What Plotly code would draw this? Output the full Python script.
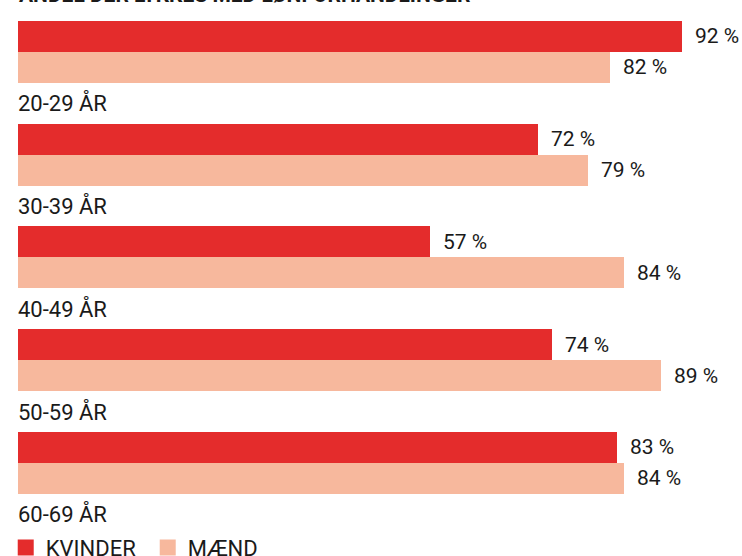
import plotly.graph_objects as go

groups = ["20-29 ÅR", "30-39 ÅR", "40-49 ÅR", "50-59 ÅR", "60-69 ÅR"]
kvinder = [92, 72, 57, 74, 83]
maend = [82, 79, 84, 89, 84]
series_names = ["KVINDER", "MÆND"]
title_text = "ANDEL DER LYKKES MED LØNFORHANDLINGER"

RED = "#E42C2C"
SALMON = "#F7B89D"
TXT = "#1a1a1a"
FONT = "Roboto"

bar_w = 0.3016
off_k = 0.0
off_m = bar_w
off_lab = 0.652

idx = list(range(len(groups)))
y_k = [i + off_k for i in idx]
y_m = [i + off_m for i in idx]

fig = go.Figure()
fig.add_trace(go.Bar(x=kvinder, y=y_k, orientation="h", width=bar_w,
                     marker=dict(color=RED, line=dict(width=0)), showlegend=False,
                     hoverinfo="skip"))
fig.add_trace(go.Bar(x=maend, y=y_m, orientation="h", width=bar_w,
                     marker=dict(color=SALMON, line=dict(width=0)), showlegend=False,
                     hoverinfo="skip"))
# legend entries
for name, col in zip(series_names, [RED, SALMON]):
    fig.add_trace(go.Scatter(x=[None], y=[None], mode="markers", name=name,
                             marker=dict(symbol="square", size=17, color=col)))

ann = []
for i in idx:
    ann.append(dict(x=kvinder[i], y=y_k[i], text=f"{kvinder[i]} %", xanchor="left",
                    yanchor="middle", xshift=11, showarrow=False,
                    font=dict(size=21, color=TXT, family=FONT)))
    ann.append(dict(x=maend[i], y=y_m[i], text=f"{maend[i]} %", xanchor="left",
                    yanchor="middle", xshift=11, showarrow=False,
                    font=dict(size=21, color=TXT, family=FONT)))
    ann.append(dict(x=0, y=i + off_lab, text=groups[i], xanchor="left",
                    yanchor="middle", xshift=-2, showarrow=False,
                    font=dict(size=22, color=TXT, family=FONT)))
ann.append(dict(xref="paper", yref="paper", x=0, y=1, text="<b>" + title_text + "</b>",
                xanchor="left", yanchor="bottom", yshift=-9, xshift=-1, showarrow=False,
                font=dict(size=21, color=TXT, family=FONT)))

fig.update_layout(
    width=742, height=556,
    margin=dict(l=18, r=2, t=0, b=26, autoexpand=False),
    paper_bgcolor="white", plot_bgcolor="white",
    barmode="overlay", bargap=0,
    xaxis=dict(range=[0, 100], visible=False, fixedrange=True),
    yaxis=dict(range=[4.803, -0.353], visible=False, fixedrange=True),
    annotations=ann,
    showlegend=True,
    legend=dict(orientation="h", x=-0.017, xanchor="left", y=0.006, yanchor="top",
                font=dict(size=22, color=TXT, family=FONT),
                itemsizing="trace", entrywidth=97, entrywidthmode="pixels",
                bgcolor="rgba(0,0,0,0)", borderwidth=0, tracegroupgap=0),
    font=dict(family=FONT, color=TXT),
)

fig.write_html("out.html", config={"displayModeBar": False},
               post_script="document.body.style.margin='0';document.body.style.overflow='hidden';")
